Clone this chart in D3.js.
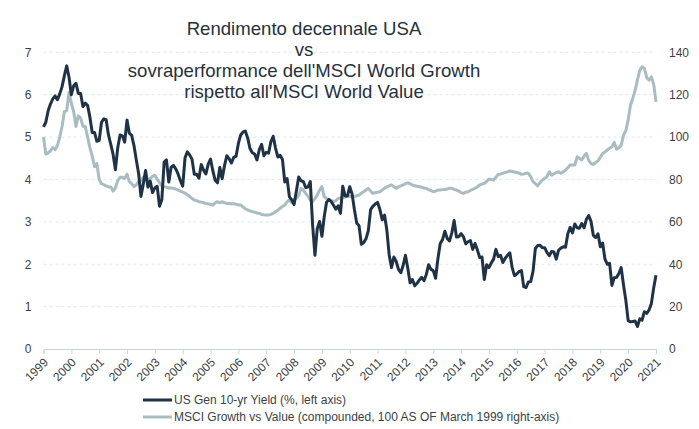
<!DOCTYPE html>
<html>
<head>
<meta charset="utf-8">
<script src="https://cdn.jsdelivr.net/npm/d3@7/dist/d3.min.js"></script>
<style>
  html, body { margin: 0; padding: 0; background: #ffffff; }
  svg { display: block; font-family: "Liberation Sans", Arial, sans-serif; }
</style>
</head>
<body>
<svg id="chart" width="699" height="429"></svg>
<script>
// ---- Data (monthly, March 1999 .. March 2021) ----
const startMonth = "1999-03";
const yearLabels = ["1999","2000","2001","2002","2003","2004","2005","2006","2007","2008","2009","2010",
  "2011","2012","2013","2014","2015","2016","2017","2018","2019","2020","2021"];
const leftTicks = [0,1,2,3,4,5,6,7];
const rightTicks = [0,20,40,60,80,100,120,140];
const titleLines = ["Rendimento decennale USA","vs","sovraperformance dell'MSCI World Growth","rispetto all'MSCI World Value"];
const seriesNames = ["US Gen 10-yr Yield (%, left axis)","MSCI Growth vs Value (compounded, 100 AS OF March 1999 right-axis)"];

// US 10-year yield, %
const usYield = [
  5.24,5.35,5.62,5.78,5.90,5.97,5.88,6.02,6.19,6.45,
  6.68,6.41,6.00,6.21,6.27,6.03,6.03,5.72,5.80,5.75,5.47,5.11,
  5.11,4.90,4.92,5.35,5.43,5.41,5.05,4.83,4.59,4.23,4.75,5.05,
  5.03,4.88,5.40,5.09,5.04,4.80,4.46,4.14,3.60,3.89,4.21,3.82,
  3.96,3.69,3.80,3.84,3.37,3.52,4.41,4.46,3.94,4.29,4.33,4.25,
  4.13,3.97,3.84,4.51,4.65,4.58,4.48,4.12,4.12,4.03,4.35,4.22,
  4.13,4.36,4.48,4.20,3.98,3.92,4.28,4.02,4.32,4.56,4.49,4.39,
  4.52,4.55,4.85,5.05,5.12,5.14,4.98,4.73,4.63,4.60,4.46,4.70,
  4.83,4.56,4.64,4.62,4.89,5.02,4.74,4.53,4.57,4.47,3.94,4.02,
  3.59,3.52,3.41,3.73,4.06,3.97,3.95,3.81,3.82,3.95,2.92,2.21,
  2.84,3.01,2.66,3.12,3.46,3.53,3.48,3.39,3.30,3.38,3.20,3.84,
  3.61,3.61,3.83,3.66,3.29,2.97,2.91,2.47,2.51,2.60,2.79,3.29,
  3.37,3.42,3.46,3.29,3.05,3.16,2.80,2.22,1.92,2.17,2.07,1.88,
  1.80,1.97,2.21,1.91,1.56,1.64,1.49,1.55,1.63,1.69,1.61,1.76,
  1.99,1.88,1.85,1.67,2.13,2.49,2.58,2.78,2.61,2.55,2.74,3.03,
  2.64,2.65,2.72,2.65,2.48,2.53,2.56,2.35,2.49,2.34,2.16,2.17,
  1.64,1.99,1.92,2.03,2.12,2.35,2.18,2.21,2.04,2.14,2.21,2.27,
  1.92,1.73,1.77,1.83,1.85,1.47,1.45,1.58,1.59,1.83,2.37,2.44,
  2.45,2.39,2.39,2.28,2.20,2.30,2.29,2.12,2.33,2.38,2.41,2.40,
  2.72,2.87,2.74,2.95,2.86,2.85,2.96,2.86,3.06,3.15,3.01,2.68,
  2.63,2.72,2.41,2.50,2.12,2.00,2.02,1.50,1.68,1.69,1.78,1.92,
  1.51,1.15,0.67,0.64,0.65,0.66,0.53,0.71,0.68,0.88,0.84,0.92,
  1.07,1.44,1.74
];

// MSCI World Growth vs Value, 100 = March 1999
const growthVsValue = [
  100,92,92.5,93.5,95,94,96,100,105,112,
  112.5,121,116,112,105,110,109,105,105,100,95,91,
  86,87.5,80,78,77.5,77,76.5,76.5,74.5,76,79.5,81,
  81,80.5,82.5,79,78,76.6,77.5,79,79.5,81,81,80,
  80.5,81.5,82,80,78.5,77,76.6,76.3,76,76,75.8,75.5,
  75,74.5,74,73.5,72.8,72,71,70.3,70,69.5,69.3,69,
  68.7,68.5,68.2,67.9,69,69.5,69,69.5,69,68.7,68.7,68.5,
  68.5,68.3,68,67.9,67,66.2,65.6,65.2,64.8,64.5,64.2,64,
  63.5,63.3,63.2,63.2,63.5,64,64.8,65.5,66.4,67.2,67.9,69.5,
  70.3,69,70.6,71.1,72.5,75.8,75,73.4,72,70.3,69.5,71,
  72.6,75,76.6,71.8,71,70.3,70,69.5,70,71,71.3,71.5,
  71.8,72.2,72,71.8,72,72.3,72.6,73.5,74.2,75,75.8,74.5,
  73.4,73.8,74,74.2,75,75.8,76.5,77,77.4,76.6,75.8,76.5,
  77,77.4,78,78.4,78,77.4,77,76.8,76.6,76.3,76,75.8,
  75.2,74.8,74.2,74.5,75,75,75.2,75.3,75.5,75.8,75.8,75.3,
  75,74.5,73.8,73.4,74,74.2,74.8,75.3,75.8,76.5,77.4,77.8,
  78.2,79,80.2,80,79.7,81,82.4,82.6,82.9,83.3,83.6,84,
  83.8,83.5,83.3,83,82.4,82.6,82.9,82.9,81.3,79,78,77,
  78.5,79.7,80.5,81.3,83.6,82,82.6,83.3,83.6,82.9,83.6,84.4,
  85.5,86.8,86.8,86.8,90.7,90,89.2,91,92.3,89,87.5,87.1,
  88,88.7,90.5,92.3,93,93.9,94.7,95.4,97.5,94.3,95,96.2,
  100.9,103,108,115,118.3,122,127,131.5,133.2,132.4,128,126.9,
  128.4,125,116.6
];

// ---- Chart ----
const svg = d3.select("#chart");
const plotLeft = 43.5, plotRight = 656, plotTop = 52.3, plotBottom = 349;

const nMonths = usYield.length;
const x = d3.scaleLinear().domain([0, nMonths - 1]).range([plotLeft, plotRight]);
const yL = d3.scaleLinear().domain([0, 7]).range([plotBottom, plotTop]);
const yR = d3.scaleLinear().domain([0, 140]).range([plotBottom, plotTop]);

const textColor = "#3b3f45";
const darkColor = "#1f3246";
const grayColor = "#a8bcc2";

// gridlines
svg.append("g").selectAll("line").data(leftTicks.filter(d => d > 0)).join("line")
  .attr("x1", plotLeft).attr("x2", plotRight)
  .attr("y1", d => yL(d)).attr("y2", d => yL(d))
  .attr("stroke", "#d9eaee").attr("stroke-width", 1).attr("stroke-dasharray", "3,3");

// bottom axis
const tickIdx = yearLabels.map((d, i) => i * 12);
const xAxis = d3.axisBottom(x).tickValues(tickIdx).tickSize(5).tickFormat((d, i) => yearLabels[i]);
const gx = svg.append("g").attr("transform", `translate(0,${plotBottom})`).call(xAxis);
gx.select(".domain").attr("stroke", "#c9d5de");
gx.selectAll(".tick line").attr("stroke", "#c9d5de");
gx.selectAll(".tick text")
  .attr("fill", textColor).attr("font-size", "12px")
  .attr("text-anchor", "end")
  .attr("dy", null).attr("y", null)
  .attr("transform", "translate(5,14) rotate(-45)");

// left axis
const gyl = svg.append("g").attr("transform", `translate(${plotLeft},0)`)
  .call(d3.axisLeft(yL).tickValues(leftTicks).tickSize(0).tickPadding(12).tickFormat(d3.format("d")));
gyl.select(".domain").remove();
gyl.selectAll("text").attr("fill", textColor).attr("font-size", "12px");

// right axis
const gyr = svg.append("g").attr("transform", `translate(${plotRight},0)`)
  .call(d3.axisRight(yR).tickValues(rightTicks).tickSize(0).tickPadding(13).tickFormat(d3.format("d")));
gyr.select(".domain").remove();
gyr.selectAll("text").attr("fill", textColor).attr("font-size", "12px");

// lines
const lineL = d3.line().x((d, i) => x(i)).y(d => yL(d));
const lineR = d3.line().x((d, i) => x(i)).y(d => yR(d));

svg.append("path").datum(growthVsValue)
  .attr("d", lineR).attr("fill", "none")
  .attr("stroke", grayColor).attr("stroke-width", 3).attr("stroke-linejoin", "round");

svg.append("path").datum(usYield)
  .attr("d", lineL).attr("fill", "none")
  .attr("stroke", darkColor).attr("stroke-width", 3).attr("stroke-linejoin", "round");

// title
const title = svg.append("text").attr("text-anchor", "middle")
  .attr("font-size", "18.6px").attr("fill", "#26313d");
titleLines.forEach((t, i) => {
  title.append("tspan").attr("x", 304).attr("y", 35 + i * 21).text(t);
});

// legend
const legend = svg.append("g");
[darkColor, grayColor].forEach((c, i) => {
  const yy = 400 + i * 17;
  legend.append("line").attr("x1", 143).attr("x2", 172).attr("y1", yy).attr("y2", yy)
    .attr("stroke", c).attr("stroke-width", 3);
  legend.append("text").attr("x", 174).attr("y", yy).attr("dy", "0.35em")
    .attr("font-size", "12px").attr("fill", textColor).text(seriesNames[i]);
});
</script>
</body>
</html>
